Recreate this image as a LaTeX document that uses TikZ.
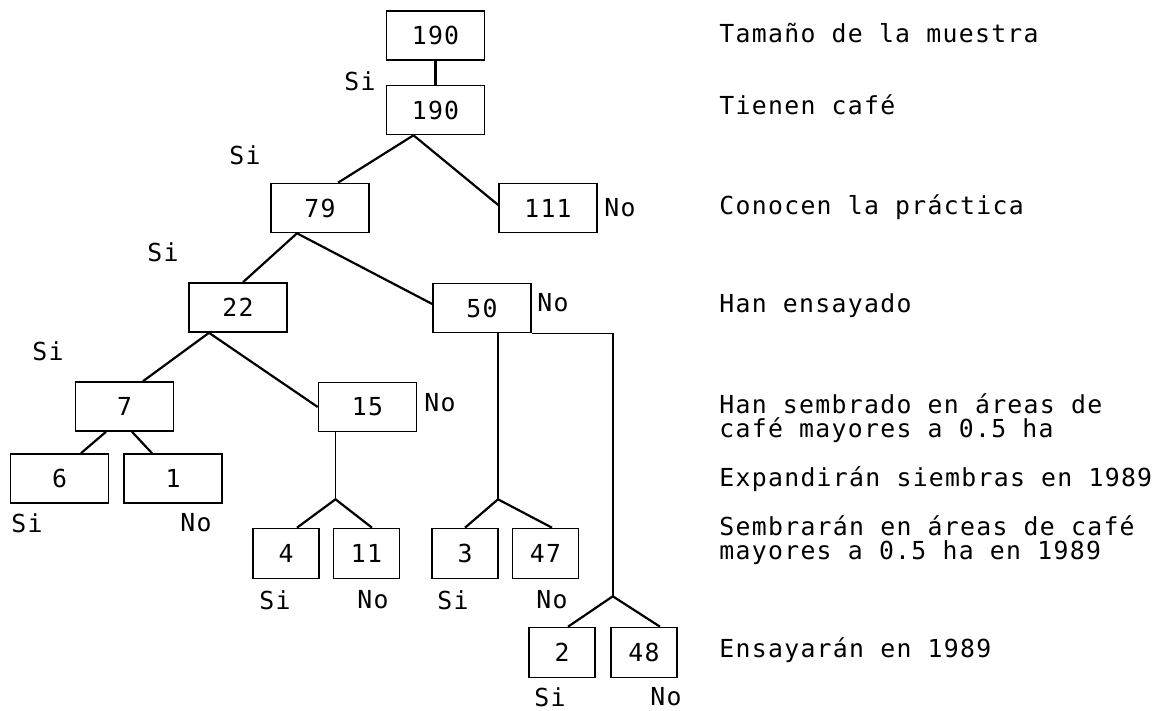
\documentclass[tikz,border=0pt]{standalone}
\usepackage{fontspec}
\newfontfamily\dotfont[LetterSpace=5.2]{DejaVu Sans Mono}
\usetikzlibrary{calc}
\begin{document}
\begin{tikzpicture}[x=0.5pt,y=-0.5pt,
  every node/.style={font=\dotfont\fontsize{12.4}{15}\selectfont, inner sep=0pt},
  bigbox/.style={draw, line width=0.8pt, minimum width=49pt, minimum height=24.5pt},
  smallbox/.style={draw, line width=0.8pt, minimum width=33pt, minimum height=25pt},
  link/.style={line width=1.1pt},
  stem/.style={line width=0.7pt},
  desc/.style={anchor=base west}]
\useasboundingbox (0,0) rectangle (1172,711);

% boxes
\node[bigbox] (n190a) at (435.5,35.5) {190};
\node[bigbox] (n190b) at (435.5,110) {190};
\node[bigbox] (n79) at (320,208) {79};
\node[bigbox] (n111) at (548,208) {111};
\node[bigbox] (n22) at (238,307.5) {22};
\node[bigbox] (n50) at (482,308) {50};
\node[bigbox] (n7) at (124.5,406.5) {7};
\node[bigbox] (n15) at (367.5,407) {15};
\node[bigbox] (n6) at (59.5,478.5) {6};
\node[bigbox] (n1) at (173,478.5) {1};
\node[smallbox] (n4) at (286,553.5) {4};
\node[smallbox] (n11) at (366.5,553.5) {11};
\node[smallbox] (n3) at (465,553.5) {3};
\node[smallbox] (n47) at (545.5,553.5) {47};
\node[smallbox] (n2) at (562,652.5) {2};
\node[smallbox] (n48) at (644,652.5) {48};

% connectors
\draw[link] (n190a.south) -- (n190b.north);
\coordinate (j1) at ($(n190b.south)+(-22,0)$);
\draw[link] (j1) -- ($(n79.north)+(18,0)$);
\draw[link] (j1) -- ($(n111.west)+(0,-3)$);
\coordinate (j2) at ($(n79.south)+(-23,0)$);
\draw[link] (j2) -- ($(n22.north)+(5,0)$);
\draw[link] (j2) -- ($(n50.west)+(0,-4)$);
\coordinate (j3) at ($(n22.south)+(-29,0)$);
\draw[link] (j3) -- ($(n7.north)+(18.5,0)$);
\draw[link] (j3) -- (n15.west);
\draw[link] ($(n7.south)+(-18.5,0)$) -- ($(n6.north)+(21.5,0)$);
\draw[link] ($(n7.south)+(7.5,0)$) -- ($(n1.north)+(-21,0)$);
\coordinate (j4) at ($(n15.south)+(-32,67)$);
\draw[stem] ($(n15.south)+(-32,0)$) -- (j4);
\draw[link] (j4) -- ($(n4.north)+(11,0)$);
\draw[link] (j4) -- ($(n11.north)+(5.5,0)$);
\coordinate (j5) at ($(n50.south)+(16,166)$);
\draw[stem] ($(n50.south)+(16,0)$) -- (j5);
\draw[link] (j5) -- (n3.north);
\draw[link] (j5) -- ($(n47.north)+(6.5,0)$);
\coordinate (j6) at ($(n50.south east)+(81,263)$);
\draw[stem] (n50.south east) -- ++(81,0) -- (j6);
\draw[link] (j6) -- ($(n2.north)+(6,0)$);
\draw[link] (j6) -- ($(n48.north)+(16,0)$);

% branch labels
\node (s0) at (360,81.5) {Si};
\node (s1) at (245,155.5) {Si};
\node (s2) at (163,252) {Si};
\node (s3) at (48,351.5) {Si};
\node[anchor=west] (no111) at (604,208) {No};
\node[anchor=west] (no50) at (537,303) {No};
\node[anchor=west] (no15) at (424,403) {No};
\node (s6) at (27,523) {Si};
\node (no1) at (196,523) {No};
\node (s4) at (275,600) {Si};
\node (no11) at (373,600) {No};
\node (s3b) at (453,600) {Si};
\node (no47) at (552,600) {No};
\node (s2b) at (550,697) {Si};
\node (no48) at (666,697) {No};

% descriptions
\node[desc] (d1) at (719,43) {Tamaño de la muestra};
\node[desc] (d2) at (719,115) {Tienen café};
\node[desc] (d3) at (719,215) {Conocen la práctica};
\node[desc] (d4) at (719,313) {Han ensayado};
\node[desc] (d5a) at (719,413) {Han sembrado en áreas de};
\node[desc] (d5b) at (719,437) {café mayores a 0.5 ha};
\node[desc] (d6) at (719,486) {Expandirán siembras en 1989};
\node[desc] (d7a) at (719,535) {Sembrarán en áreas de café};
\node[desc] (d7b) at (719,559) {mayores a 0.5 ha en 1989};
\node[desc] (d8) at (719,657) {Ensayarán en 1989};
\end{tikzpicture}
\end{document}
